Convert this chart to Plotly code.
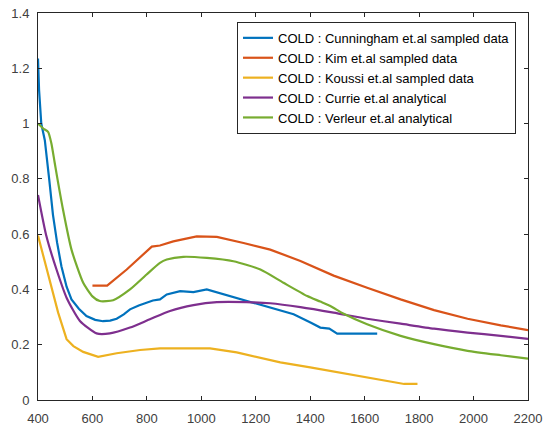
import plotly.graph_objects as go

# Series data (x: wavelength-like axis 400..2200, y: response)
cunningham_x = [400, 404, 412, 425, 441, 455, 470, 486, 505, 523, 550, 578, 610, 639, 665, 689, 715,
                738, 770, 799, 822, 848, 873, 922, 971, 1020, 1069, 1131, 1204, 1278, 1339, 1401,
                1437, 1470, 1499, 1646]
cunningham_y = [1.235, 1.12, 1.0, 0.94, 0.80, 0.67, 0.57, 0.484, 0.41, 0.364, 0.33, 0.304, 0.29, 0.285,
                0.287, 0.294, 0.31, 0.328, 0.342, 0.352, 0.36, 0.364, 0.382, 0.394, 0.39, 0.40, 0.386,
                0.37, 0.35, 0.328, 0.31, 0.28, 0.262, 0.258, 0.24, 0.24]

kim_x = [600, 654, 726, 818, 848, 897, 983, 1057, 1155, 1253, 1364, 1486, 1609, 1732, 1855, 1978,
         2100, 2200]
kim_y = [0.414, 0.414, 0.472, 0.555, 0.559, 0.574, 0.592, 0.59, 0.568, 0.544, 0.503, 0.45, 0.406,
         0.364, 0.325, 0.294, 0.27, 0.253]

koussi_x = [400, 420, 443, 474, 505, 530, 566, 621, 689, 775, 848, 1032, 1130, 1216, 1290, 1400,
            1584, 1745, 1794]
koussi_y = [0.595, 0.52, 0.436, 0.316, 0.22, 0.195, 0.174, 0.156, 0.169, 0.181, 0.187, 0.187, 0.172,
            0.154, 0.136, 0.118, 0.085, 0.058, 0.058]

currie_x = [400, 431, 468, 505, 554, 615, 664, 738, 811, 885, 971, 1057, 1167, 1253, 1364, 1486,
            1609, 1732, 1855, 1978, 2100, 2200]
currie_y = [0.742, 0.592, 0.472, 0.37, 0.286, 0.241, 0.241, 0.262, 0.292, 0.322, 0.343, 0.354, 0.354,
            0.35, 0.336, 0.316, 0.294, 0.276, 0.258, 0.244, 0.232, 0.221]

verleur_x = [400, 418, 437, 449, 461, 470, 492, 523, 566, 600, 627, 676, 738, 799, 848, 873, 934,
             1020, 1118, 1217, 1302, 1389, 1437, 1474, 1523, 1609, 1732, 1855, 1978, 2100, 2200]
verleur_y = [1.0, 0.983, 0.97, 0.929, 0.86, 0.808, 0.688, 0.544, 0.424, 0.375, 0.358, 0.361, 0.40,
             0.454, 0.496, 0.508, 0.518, 0.514, 0.502, 0.472, 0.424, 0.376, 0.356, 0.34, 0.312,
             0.274, 0.232, 0.202, 0.178, 0.162, 0.15]

x_ticks = [400, 600, 800, 1000, 1200, 1400, 1600, 1800, 2000, 2200]
y_ticks = [0, 0.2, 0.4, 0.6, 0.8, 1.0, 1.2, 1.4]
y_tick_text = ["0", "0.2", "0.4", "0.6", "0.8", "1", "1.2", "1.4"]

series = [
    ("COLD : Cunningham et.al sampled data", cunningham_x, cunningham_y, "#0072BD", "linear"),
    ("COLD : Kim et.al sampled data", kim_x, kim_y, "#D95319", "linear"),
    ("COLD : Koussi et.al sampled data", koussi_x, koussi_y, "#EDB120", "linear"),
    ("COLD : Currie et.al analytical", currie_x, currie_y, "#7E2F8E", "spline"),
    ("COLD : Verleur et.al analytical", verleur_x, verleur_y, "#77AC30", "spline"),
]

fig = go.Figure()
for name, xs, ys, color, shape in series:
    line = dict(color=color, width=2.2, shape=shape)
    if shape == "spline":
        line["smoothing"] = 0.6
    fig.add_trace(go.Scatter(x=xs, y=ys, mode="lines", name=name, line=line))

axis_common = dict(
    showgrid=False, zeroline=False, showline=True, linecolor="#262626", linewidth=1,
    mirror="ticks", ticks="inside", ticklen=4, tickcolor="#262626", tickwidth=1,
    tickfont=dict(family="Arial", size=13, color="#404040"),
    automargin=False,
)

fig.update_layout(
    width=544, height=425,
    margin=dict(l=38, r=16, t=13, b=25),
    paper_bgcolor="white", plot_bgcolor="white",
    font=dict(family="Arial", size=13, color="#262626"),
    xaxis=dict(range=[400, 2200], tickvals=x_ticks, ticklabelstandoff=6, **axis_common),
    yaxis=dict(range=[0, 1.4], tickvals=y_ticks, ticktext=y_tick_text, ticklabelstandoff=5,
               **axis_common),
    legend=dict(
        x=0.9755, y=0.977, xanchor="right", yanchor="top",
        bgcolor="white", bordercolor="#262626", borderwidth=1,
        font=dict(family="Arial", size=13, color="#000000"),
        tracegroupgap=0,
    ),
    showlegend=True,
)

fig.write_html("out.html")
